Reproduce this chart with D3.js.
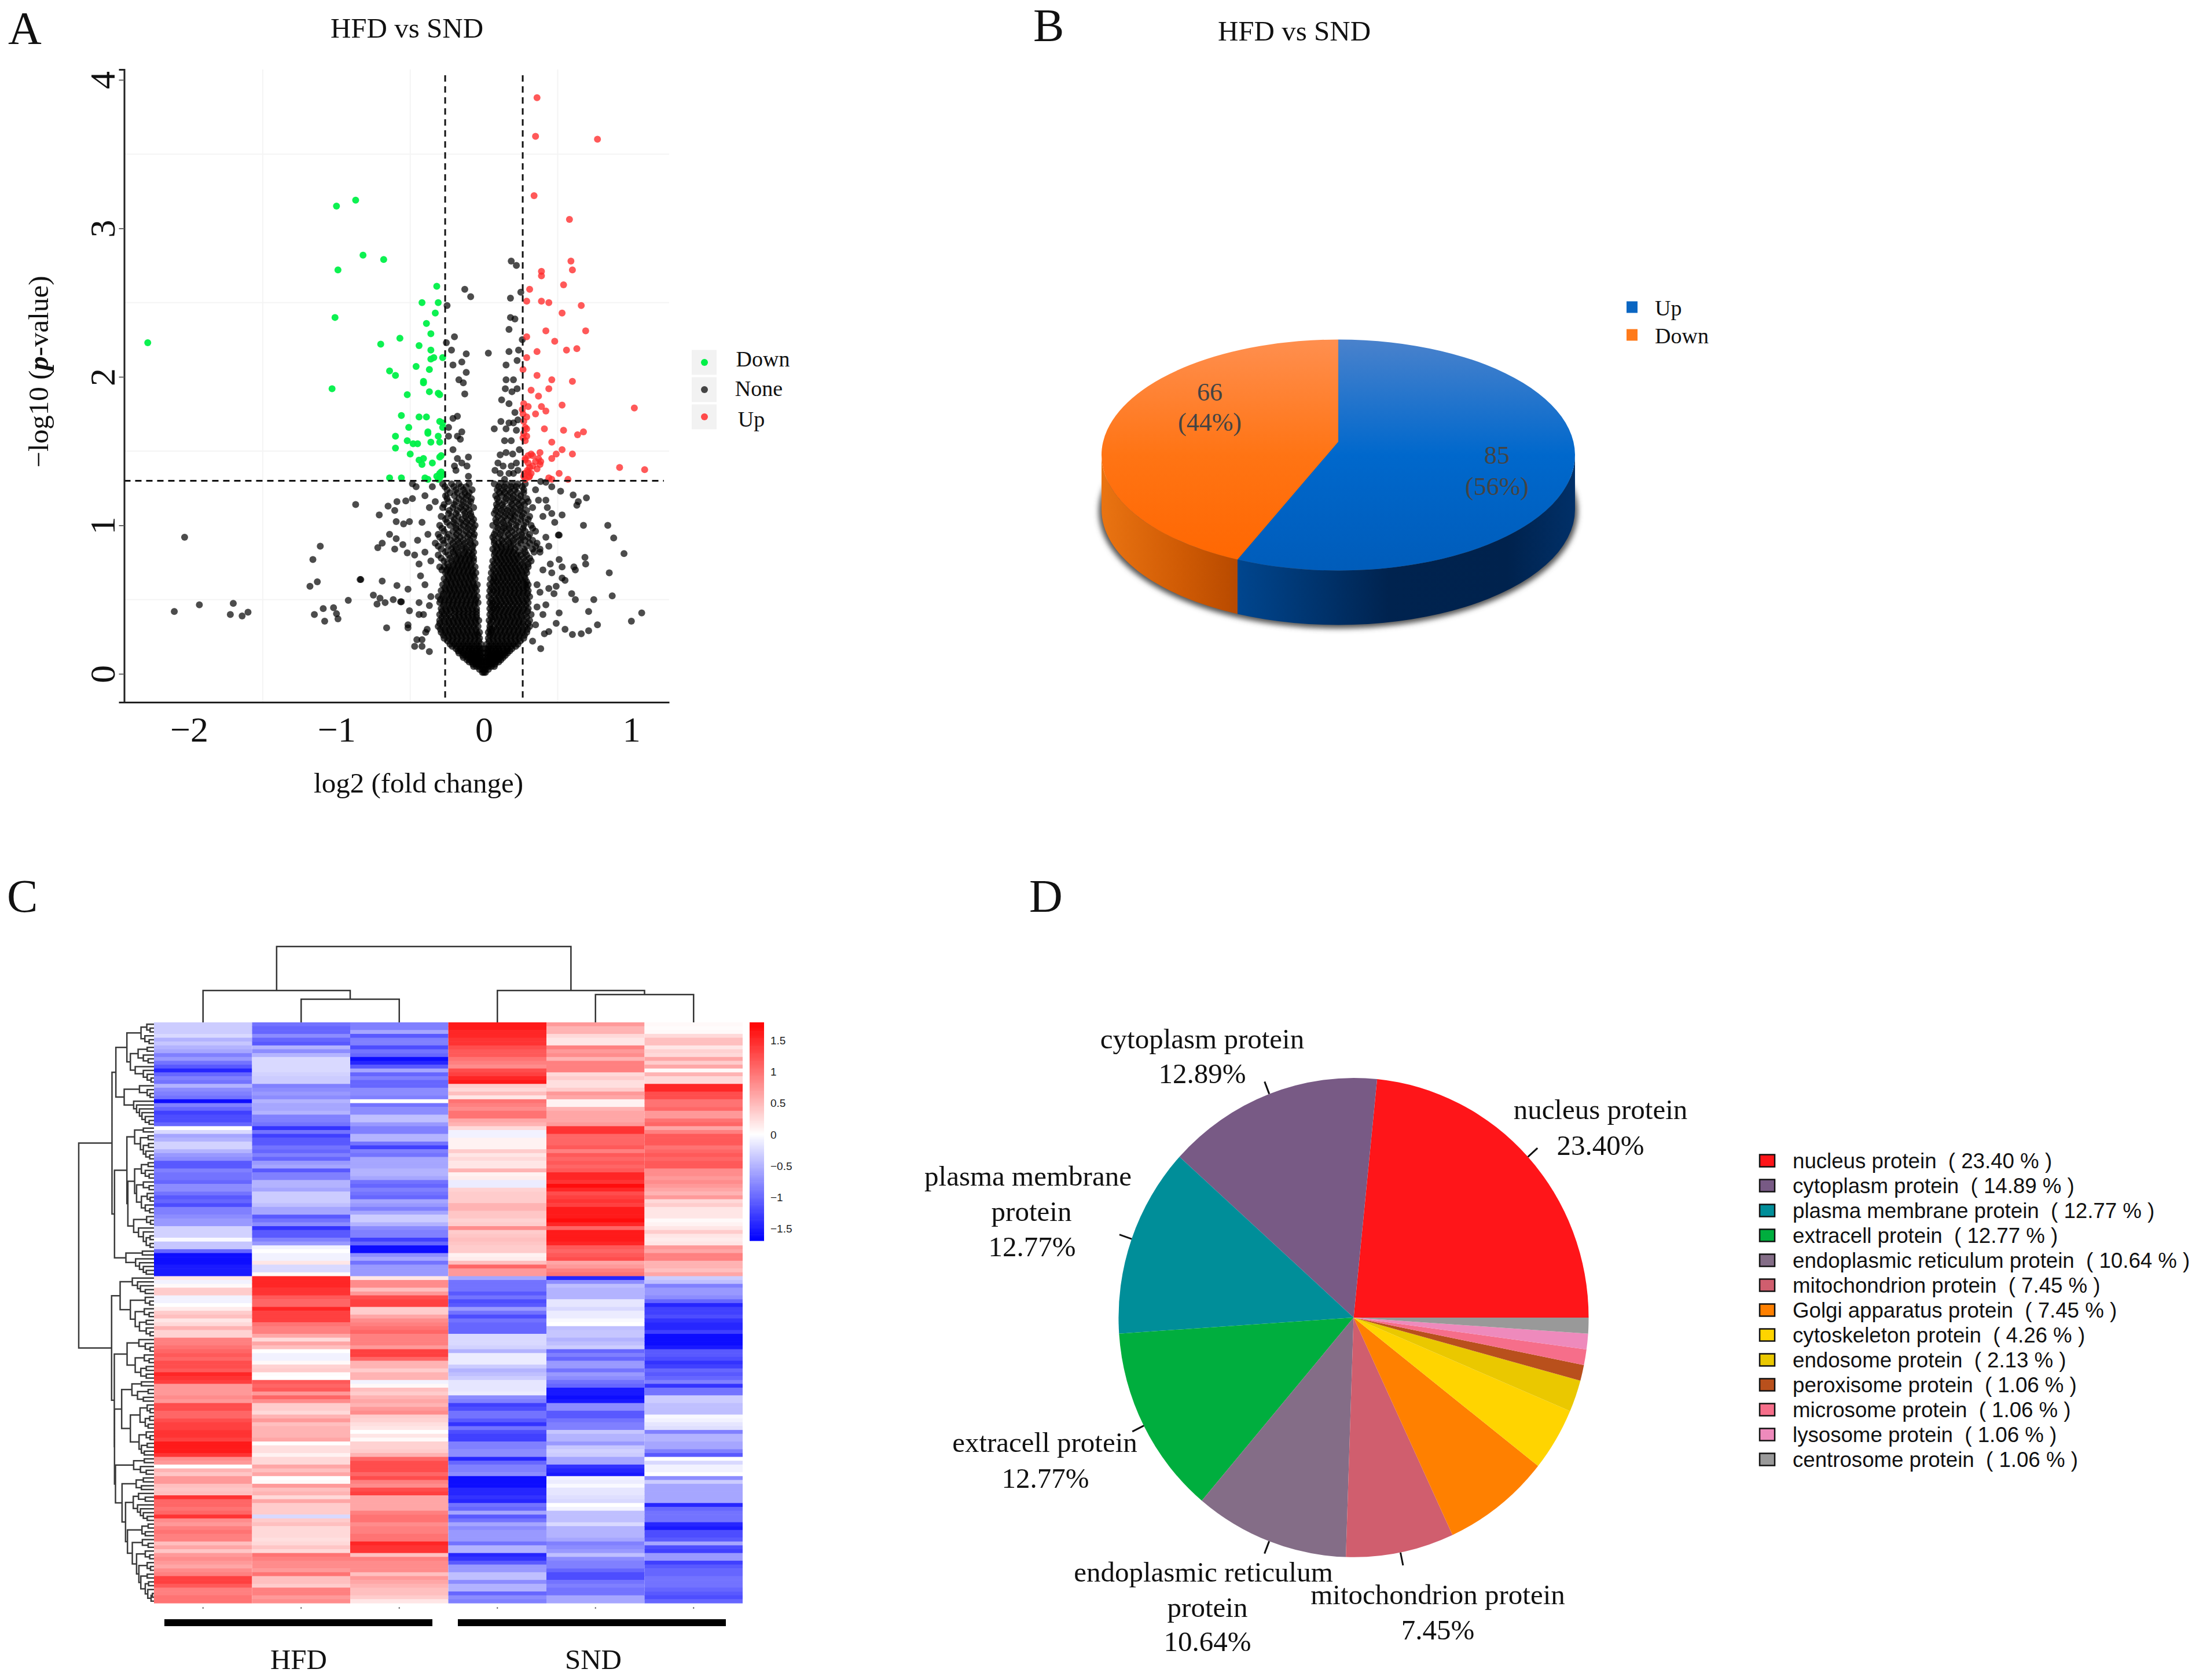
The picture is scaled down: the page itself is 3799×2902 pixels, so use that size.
<!DOCTYPE html>
<html><head><meta charset="utf-8">
<script src="https://cdn.jsdelivr.net/npm/d3@7/dist/d3.min.js"></script>
<style>html,body{margin:0;padding:0;background:#fff}svg{display:block}text{font-family:"Liberation Serif",serif;white-space:pre}</style>
</head><body><svg id="c" width="3799" height="2902" viewBox="0 0 3799 2902"></svg>
<script>
// ---------- Panel A data: [log2 fold change, -log10 p]
const downPts=[[-2.28,2.23],[-1.03,1.92],[-1.01,2.40],[-.99,2.72],[-1,3.15],[-.87,3.19],[-.82,2.82],[-.68,2.79],[-.70,2.22],[-.57,2.26],[-.64,2.04],[-.60,2.01],[-.52,1.88],[-.46,2.07],[-.44,2.21],[-.42,2.50],[-.39,2.36],[-.36,2.29],[-.36,2.18],[-.36,2.12],[-.34,2.13],[-.37,2.05],[-.41,1.97],[-.41,1.96],[-.37,1.90],[-.31,1.89],[-.30,1.88],[-.33,2.43],[-.31,2.50],[-.32,2.61],[-.28,2.13],[-.56,1.74],[-.44,1.73],[-.39,1.73],[-.51,1.66],[-.60,1.60],[-.52,1.57],[-.60,1.52],[-.48,1.55],[-.45,1.55],[-.50,1.48],[-.38,1.62],[-.38,1.63],[-.30,1.70],[-.28,1.69],[-.31,1.60],[-.36,1.56],[-.30,1.56],[-.28,1.66],[-.41,1.45],[-.44,1.44],[-.42,1.41],[-.35,1.42],[-.30,1.46],[-.29,1.47],[-.64,1.32],[-.56,1.32],[-.40,1.32],[-.38,1.31],[-.30,1.35],[-.29,1.36],[-.31,1.31],[-.28,1.34],[-.30,1.32],[-.32,1.33]];
const upPts=[[.36,3.88],[.35,3.62],[.77,3.60],[.34,3.22],[.58,3.06],[.59,2.78],[.60,2.72],[.39,2.71],[.39,2.68],[.54,2.62],[.31,2.59],[.29,2.51],[.39,2.51],[.44,2.50],[.53,2.43],[.66,2.48],[.69,2.31],[.42,2.31],[.29,2.27],[.48,2.24],[.56,2.18],[.63,2.19],[.36,2.17],[.29,2.13],[.265,2.05],[.36,2.01],[.46,1.98],[.60,1.97],[.44,1.92],[.32,1.91],[.37,1.87],[.53,1.81],[1.02,1.79],[.27,1.82],[.26,1.78],[.30,1.80],[.39,1.80],[.42,1.77],[.29,1.73],[.35,1.75],[.265,1.75],[.28,1.66],[.29,1.65],[.41,1.65],[.54,1.64],[.675,1.63],[.635,1.61],[.265,1.59],[.28,1.57],[.46,1.56],[.53,1.51],[.49,1.48],[.60,1.48],[.46,1.45],[.38,1.49],[.30,1.47],[.32,1.48],[.28,1.45],[.37,1.45],[.385,1.43],[.38,1.41],[.33,1.40],[.31,1.39],[.275,1.35],[.295,1.37],[.32,1.35],[.51,1.35],[.44,1.32],[.46,1.31],[.57,1.31],[.92,1.39],[1.09,1.375],[.27,1.33],[.305,1.325],[.28,1.31],[.30,1.42],[.27,1.62],[.29,1.60],[.33,1.47],[.36,1.38],[.35,1.43],[.31,1.33],[.27,1.70],[.28,1.44],[.30,1.36]];
const nonePts=[[.185,2.78],[.22,2.75],[-.13,2.59],[-.09,2.54],[-.25,2.48],[.25,2.57],[.18,2.53],[.18,2.40],[.21,2.39],[.17,2.32],[-.20,2.27],[-.255,2.23],[.26,2.25],[-.22,2.18],[-.12,2.155],[-.15,2.10],[-.21,2.08],[-.12,2.03],[-.17,1.98],[-.14,1.96],[-.13,1.885],[.03,2.16],[.17,2.17],[.235,2.18],[.225,2.11],[.15,2.08],[.15,1.98],[.20,1.98],[.145,1.92],[.19,1.90],[.225,1.92],[.12,1.845],[.17,1.82],[.21,1.76],[-.18,1.735],[-.21,1.72],[-.24,1.66],[.115,1.70],[.07,1.65],[.17,1.69],[.20,1.69],[.23,1.71],[.15,1.65],[.22,1.64],[.14,1.57],[.185,1.57],[-.15,1.63],[-.18,1.60],[-.24,1.60],[-.21,1.51],[-.16,1.58],[-.105,1.46],[-.18,1.45],[-.15,1.42],[-.115,1.40],[-.20,1.40],[-.19,1.37],[-.105,1.33],[.11,1.475],[.15,1.49],[.095,1.42],[.075,1.37],[.13,1.40],[.185,1.40],[.22,1.42],[.17,1.35],[.20,1.35],[.14,1.31],[.23,1.37],[.11,1.35],[.195,1.48],[.24,1.51],
[-2.03,.92],[-2.10,.42],[-1.93,.465],[-1.70,.475],[-1.72,.40],[-1.64,.39],[-1.60,.415],[-1.11,.86],[-1.16,.77],[-1.13,.62],[-1.18,.59],[-1.15,.40],[-1.09,.44],[-1.08,.355],[-1.02,.445],[-1,.405],[-.99,.37],[-.92,.495],[-.84,.635],[-.835,.635],[-.87,1.14],[-.69,.625],[-.75,.53],[-.705,.51],[-.725,.47],[-.67,.48],[-.615,.50],[-.565,.485],[-.56,.485],[-.59,.595],[-.515,.57],[-.505,.425],[-.515,.33],[-.66,.31],[-.71,1.07],[-.65,1.13],[-.605,1.10],[-.595,1.025],[-.64,.94],[-.545,1.01],[-.505,1.025],[-.72,.85],[-.69,.88],[-.605,.84],[-.55,.87],[-.595,.91],[-.52,.815],[-.59,1.16],[-.53,1.165],[-.485,1.28],[-.46,1.26],[-.485,1.18],
[.84,1],[.88,.915],[.95,.81],[.85,.68],[.87,.525],[1.07,.41],[1,.355],[.77,.33],[.71,.29],[.66,.27],[.60,.265],[.55,.30],[.71,.42],[.745,.50],[.69,.74],[.685,.785],[.675,1],[.695,1.185],[.64,1.16],[.63,1.135],[.605,1.205],[.53,1.07],[.52,1.23],[.46,1.26],[.42,1.29],[.385,1.295],[.505,.935],[.51,.935],[.42,1.17],[.51,.77],[.53,.72],[.61,.72],[.62,.70],[.46,.68],[.53,.645],[.55,.63],[.49,.59],[.595,.54],[.62,.50],[.44,.575],[.475,.54],[.42,.465],[.51,.41],[.49,.34],[.44,.285],[.385,.17],
[-.47,.185],[-.42,.185],[-.455,.23],[-.42,.23],[-.37,.15],[-.395,.28],[-.385,.30],[-.515,.31],[-.44,.48],[-.44,.40],[-.41,.40],[-.37,.46],[-.36,.52],[-.40,.60],[-.43,.66],[.40,.40],[.36,.45],[.38,.55],[.35,.33],[.41,.27],[.33,.22],[.36,.60],[.40,.70],[.45,.74],[.38,.82],[.44,.86],[.42,.92],[.48,1.02],[.40,1.06],[.43,1.12],[.37,1.17],[.35,1.24],[.46,1.08],[-.37,1.12],[-.42,1.02],[-.38,.94],[-.45,.90],[-.40,.82],[-.36,.76],[-.44,.74],[-.47,.80],[-.33,1.16],[-.35,1.26],[-.40,1.20]];
const massLevels=[.01,.03,.05,.08,.11,.14,.17,.20,.24,.28,.32,.36,.40,.44,.48,.52,.56,.60,.64,.68,.72,.76,.80,.84,.88,.92,.96,1.0,1.04,1.08,1.12,1.16,1.20,1.24,1.28];
const massX=[
[-.01,0,.01],[-.03,-.01,.01,.03],[-.07,-.05,-.03,-.01,.01,.03,.05,.07],[-.10,-.08,-.06,-.04,-.02,0,.02,.04,.06,.08,.10],
[-.14,-.11,-.09,-.07,-.05,-.03,-.01,.01,.03,.05,.07,.09,.11,.13],[-.17,-.14,-.11,-.09,-.07,-.05,-.03,-.01,.01,.03,.05,.07,.09,.11,.14,.16],
[-.19,-.16,-.13,-.10,-.08,-.05,-.03,-.01,.01,.03,.05,.08,.10,.13,.16,.19],[-.23,-.20,-.17,-.14,-.11,-.08,-.05,-.02,.02,.05,.08,.11,.14,.17,.20,.23],
[-.27,-.24,-.21,-.18,-.15,-.12,-.09,-.06,-.03,.03,.06,.09,.12,.15,.18,.21,.24,.27],[-.29,-.26,-.23,-.20,-.17,-.14,-.11,-.08,-.05,-.03,.03,.05,.08,.11,.14,.17,.20,.23,.26,.29],
[-.31,-.28,-.25,-.22,-.19,-.16,-.13,-.10,-.07,-.04,.04,.07,.10,.13,.16,.19,.22,.25,.28,.31],[-.30,-.27,-.24,-.21,-.18,-.15,-.12,-.09,-.06,-.035,.035,.06,.09,.12,.15,.18,.21,.24,.27,.31],
[-.30,-.27,-.24,-.2,-.17,-.14,-.11,-.08,-.05,.04,.07,.10,.13,.16,.19,.22,.25,.28,.32],[-.29,-.26,-.23,-.2,-.17,-.14,-.11,-.08,-.05,.04,.065,.09,.12,.15,.18,.21,.24,.27,.30],
[-.30,-.27,-.24,-.21,-.18,-.15,-.12,-.09,-.06,-.04,.04,.06,.09,.12,.15,.18,.21,.24,.27,.30],[-.31,-.28,-.25,-.22,-.19,-.16,-.13,-.1,-.07,-.045,.035,.07,.1,.13,.16,.19,.22,.25,.28,.31],
[-.29,-.26,-.23,-.2,-.17,-.14,-.11,-.08,-.05,.04,.065,.09,.12,.15,.18,.21,.24,.27,.30],[-.28,-.25,-.22,-.19,-.16,-.13,-.1,-.07,-.045,.04,.07,.1,.13,.16,.19,.22,.25,.28,.30],
[-.27,-.24,-.21,-.18,-.15,-.12,-.09,-.06,.045,.07,.1,.13,.16,.19,.22,.25,.28],[-.26,-.23,-.2,-.17,-.14,-.11,-.08,-.055,.05,.08,.11,.14,.17,.2,.23,.26,.29],
[-.30,-.27,-.24,-.21,-.18,-.15,-.12,-.09,-.06,.055,.09,.12,.15,.18,.21,.24,.27,.30],[-.27,-.22,-.19,-.16,-.13,-.1,-.07,.06,.09,.12,.15,.18,.21,.24,.28,.32],
[-.31,-.24,-.2,-.17,-.14,-.11,-.08,.07,.1,.13,.16,.19,.22,.25,.29],[-.29,-.22,-.19,-.15,-.12,-.08,.06,.09,.12,.15,.18,.21,.27,.33,.38],
[-.33,-.27,-.21,-.17,-.13,-.09,-.06,.07,.1,.13,.17,.2,.25,.31,.36],[-.30,-.25,-.2,-.16,-.11,-.07,.06,.1,.14,.18,.22,.26,.30],
[-.27,-.21,-.17,-.12,-.08,.08,.12,.15,.19,.24,.28,.35],[-.30,-.23,-.19,-.14,-.1,-.06,.06,.1,.14,.17,.22,.27,.32],
[-.26,-.2,-.15,-.11,-.07,.08,.12,.16,.2,.25,.30],[-.24,-.19,-.13,-.09,.07,.11,.15,.19,.23,.27],
[-.28,-.21,-.16,-.12,-.07,.09,.13,.17,.21,.25,.33],[-.24,-.19,-.14,-.09,.1,.14,.18,.22,.26,.3],
[-.26,-.2,-.15,-.11,.08,.12,.16,.2,.25],[-.25,-.19,-.14,-.08,.09,.13,.17,.21,.27],[-.28,-.22,-.17,-.1,.07,.11,.15,.19,.23,.28]];
// second, staggered reading of the same dense region
const coreLevels=[.065,.095,.125,.155,.185,.22,.26,.30,.34,.38,.42,.46,.50,.54,.58,.62,.66,.70,.74,.78,.82,.86,.90,.94,.98,1.02,1.06,1.10,1.14,1.18,1.22,1.26];
const coreX=[
[-.075,-.055,-.035,-.015,.015,.035,.055,.075],[-.115,-.095,-.075,-.055,-.035,-.015,.015,.035,.055,.075,.095,.115],[-.145,-.125,-.105,-.085,-.065,-.045,-.025,.025,.045,.065,.085,.105,.125,.145],
[-.175,-.155,-.13,-.105,-.08,-.055,-.03,.03,.055,.08,.105,.13,.155,.175],[-.215,-.185,-.155,-.125,-.095,-.065,-.035,.035,.065,.095,.125,.155,.185,.215],
[-.245,-.215,-.185,-.155,-.125,-.095,-.065,-.035,.035,.065,.095,.125,.155,.185,.215,.245],[-.275,-.245,-.215,-.185,-.155,-.125,-.095,-.065,-.04,.04,.065,.095,.125,.155,.185,.215,.245,.275],
[-.295,-.265,-.235,-.205,-.175,-.145,-.115,-.085,-.055,.04,.055,.085,.115,.145,.175,.205,.235,.265,.295],[-.30,-.265,-.235,-.205,-.175,-.145,-.115,-.085,-.055,.045,.085,.115,.145,.175,.205,.235,.265,.30],
[-.285,-.255,-.225,-.195,-.165,-.135,-.105,-.075,-.05,.05,.075,.105,.135,.165,.195,.225,.255,.29],[-.285,-.255,-.225,-.195,-.165,-.135,-.105,-.075,-.05,.05,.08,.11,.14,.17,.2,.23,.26,.295],
[-.275,-.245,-.215,-.185,-.155,-.125,-.095,-.065,.05,.08,.105,.135,.165,.195,.225,.255,.285],[-.295,-.265,-.235,-.205,-.175,-.145,-.115,-.085,-.055,.05,.08,.11,.14,.17,.2,.23,.26,.29],
[-.275,-.245,-.215,-.185,-.155,-.125,-.095,-.065,.05,.085,.115,.145,.175,.205,.235,.265,.295],[-.265,-.235,-.205,-.175,-.145,-.115,-.085,-.06,.05,.085,.115,.145,.175,.205,.235,.265,.29],
[-.255,-.225,-.195,-.165,-.135,-.105,-.075,.06,.085,.115,.145,.175,.205,.235,.265,.29],[-.245,-.215,-.185,-.155,-.125,-.095,-.07,.065,.095,.125,.155,.185,.215,.245,.275],
[-.285,-.25,-.225,-.195,-.165,-.135,-.105,-.075,.065,.1,.13,.16,.19,.22,.25,.285],[-.245,-.205,-.175,-.145,-.115,-.085,.07,.105,.135,.165,.195,.225,.26,.30],
[-.29,-.23,-.185,-.155,-.125,-.095,-.07,.08,.11,.14,.17,.2,.23,.27,.31],[-.26,-.21,-.175,-.13,-.1,-.07,.075,.11,.14,.17,.2,.235,.28,.34],
[-.31,-.24,-.195,-.155,-.115,-.075,.08,.115,.15,.185,.23,.29,.35],[-.28,-.225,-.18,-.14,-.095,.07,.12,.16,.2,.24,.28,.33],
[-.31,-.24,-.185,-.14,-.10,-.065,.07,.11,.165,.21,.255,.31],[-.285,-.19,-.155,-.11,-.07,.095,.135,.175,.215,.265,.33],
[-.25,-.205,-.16,-.12,-.08,.085,.13,.185,.23,.285],[-.29,-.22,-.175,-.125,-.085,.095,.14,.18,.21,.26,.31],
[-.235,-.18,-.14,-.10,.08,.12,.16,.2,.245,.29],[-.27,-.2,-.15,-.105,.085,.125,.19,.235,.275],
[-.25,-.17,-.125,-.085,.09,.15,.195,.235,.29],[-.23,-.18,-.13,-.10,.105,.14,.18,.225,.27],[-.265,-.205,-.155,-.12,.10,.14,.185,.22,.26]];
const xTicks=[-2,-1,0,1], yTicks=[0,1,2,3,4], xMinor=[-1.5,-.5,.5], yMinor=[.5,1.5,2.5,3.5];
const pCut=1.3, fcCut=.263;
const legendA=["Down","None","Up"];
// ---------- Panel B data
const deCats=["Up","Down"], deCounts=[85,66], dePct=["(56%)","(44%)"];
// ---------- Panel C data (z-scores, row by row)
const hfd1=[-.4,-.4,-.4,-.3,-.6,-.45,-.6,-.7,-1,-.8,-1.1,-1.3,-1.7,-1.2,-1,-1.1,-.6,-.9,-1,-1.1,-1.9,-1,-1.2,-1.5,-1.4,-1.4,-1.2,0,-.3,-.7,-.6,-.35,-.35,-.6,-.8,-.9,-1.3,-1.3,-1,-1.1,-1.1,-1.2,-.9,-.9,-1.1,-1.3,-1.2,-1.4,-1,-1,-.9,
-.8,-.8,-.35,-.35,-.35,-.05,-.45,-.45,-1.2,-1.9,-1.9,-1.9,-1.8,-1.8,-1.8,.2,-.1,.05,.4,.4,-.1,-.1,0,.15,.4,.5,.2,.3,.6,.35,.35,1,1,1.1,1.2,1.3,1.2,1.4,1.4,1.3,1.7,1.6,1.5,.8,.8,.8,.9,.8,1.4,1.4,
1.2,1.2,1.4,1.5,1.5,1.6,1.6,1.5,1.8,1.8,1.8,1.6,.9,.8,0,.6,.45,.8,.8,.5,.45,.5,1.6,1.2,1.2,1.1,1.2,1.6,.9,.8,1,1.1,1,1,.5,.7,.45,.8,.9,.8,.7,.9,1,1.5,1.5,1.3,1,1,1.1,1.1];
const hfd2=[-1.1,-1.2,-1.2,-.9,-1.2,-1.3,-.6,-.9,-.6,-.3,-.3,-.3,-.3,-.35,-.4,-.4,-1,-.9,-.8,-.9,-.6,-.7,-.7,-.6,-1,-1,-1.1,-1.6,-1.1,-1.5,-1.3,-1.3,-1.1,-1.2,-1,-1.2,-.8,-.7,-1.3,-1,-1,-.6,-.6,-.7,-.4,-.4,-.4,-.5,-.7,-.7,-1.3,
-1.1,-.9,-1.6,-1.3,-1.3,-1,-.8,-.1,0,-.1,-.1,.2,-.3,-.3,.05,1.7,1.7,1.7,1.6,1.6,1.3,1.2,1.2,1.7,1.5,1.5,1.5,1.1,1,1,.7,.3,.7,.5,0,-.1,-.1,.05,.35,.4,.02,0,1.3,1.2,1.3,.8,1.2,.9,.4,.4,
.3,.6,.8,.5,.6,.6,.6,.7,0,.25,.25,.1,.3,.3,.7,.5,.7,0,.05,.8,.5,.6,.3,.7,.4,.4,.4,-.3,.4,.5,.3,.3,.3,.25,.3,.45,.3,1.1,1,.9,.9,.8,1.1,.5,.5,.4,1,1,.8,.9];
const hfd3=[-1,-1,-.7,-1.3,-1,-1,-1.4,-1.1,-1.2,-1.9,-1.7,-1.3,-.7,-1.2,-1,-1.2,-1.2,-.9,-.9,-1,0,-1.1,-.9,-.9,-.5,-.5,-.8,-1,-1,-.6,-.6,-1.1,-1.5,-1,-1.1,-.7,-.7,-.7,-.6,-.6,-.7,-1.1,-1.2,-1,-1.1,-1.2,-.7,-.8,-1,-.7,-.4,
-.4,-.6,-.9,-1,-1,-1.5,-1.2,-1.9,-1.9,-.9,-.7,-1.1,-.8,-.8,-.8,.2,.9,.9,.5,.8,1.4,1.5,1.5,.4,.4,.7,.9,1,1.1,1.2,1,1,1,.8,1.5,1.5,1.2,.6,.6,.4,.6,.6,-.1,.05,.5,.4,.6,.7,.6,.8,
.9,.4,.35,.25,.2,0,.2,.05,.35,.35,.4,.6,1.2,1.4,1.4,1.4,1.2,1.4,1,.9,1.4,1.5,.7,.7,.7,.7,1,1.1,1.1,.9,1,1,1.1,1.1,1.7,1.6,1.6,.5,1,.9,.9,.9,.5,.8,.7,.6,.5,.5,.4,.2];
const snd1=[1.8,1.8,1.7,1.7,1.6,1.6,1.4,1.3,1.3,1.1,1,.9,1.4,1.5,1.7,1.8,.4,.3,.5,.2,1.1,1,.9,1.1,1.1,.7,.6,.3,-.1,-.1,.1,.1,.1,.4,.2,.3,.2,.2,.6,.1,.15,-.15,-.15,.35,.4,.4,.4,.6,.6,.45,.45,
.35,.4,.9,.4,.45,.5,.45,.4,.4,.1,.15,.5,1.2,.8,.8,-.7,-1.1,-1.1,-1.1,-1.3,-1.1,-1.4,-1.3,-.8,-1.1,-1.4,-1.1,-1.2,-1.2,-1.2,-.3,-.3,-.3,-.35,-.6,-.15,-.15,-.15,-.4,-.6,-.5,-.4,-.2,-.2,-.2,-.15,-.9,-1,-1.5,-1.4,
-1.1,-1.1,-1.3,-1.6,-1.1,-1.4,-1.5,-1.5,-1,-1,-.9,-.9,-1.7,-1.2,-1,-1,-.9,-1.9,-1.9,-1.9,-1.7,-1.7,-1.6,-1.7,-1.1,-1.2,-.7,-1.3,-1.1,-.7,-.9,-.8,-.8,-.8,-1.1,-.6,-.6,-1.7,-1.6,-1.3,-.8,-.8,-.5,-.5,-.9,-.6,-.6,-1.2,-.9,-1];
const snd2=[.8,.6,.6,.3,.2,.2,1,.8,.9,.6,1,1,1,.3,.4,.25,.25,.4,.8,.7,.1,.1,.6,.7,.7,.7,.8,1.6,1.6,1.2,1.2,1.2,1.3,1,1.3,1.2,1.3,1.2,1.3,1.7,1.7,1.6,1.9,1.7,1.4,1.5,1.6,1.5,1.8,1.8,1.8,
1.9,1.7,1.2,1.8,1.8,1.8,1.7,1.3,1.2,1.3,1.4,.7,.8,1,1.1,-1.7,-.9,-.5,-.6,-.6,-.6,-.2,-.2,-.3,-.15,-.15,-.05,0,-.5,-.45,-.45,-.6,-.5,-.4,-1.2,-1,-1.2,-.8,-.8,-1.1,-.8,-.9,-1.1,-1.2,-1.8,-1.8,-1.9,-1.8,-.9,-.9,
-1.3,-1.3,-1.1,-1,-1,-.45,-.6,-.6,-.8,-.45,-.35,-.4,-.7,-.7,-1.6,-1.7,-1.8,-.1,-.15,-.05,-.2,-.2,-.25,-.3,0,-.1,-.5,-.5,-.5,-.3,-.6,-.6,-.6,-.7,-1,-.9,-.8,-.5,-.9,-1,-1,-1.2,-1.4,-1.4,-1.1,-1,-1.1,-1.1,-.7,-.7];
const snd3=[.05,.02,.05,.3,.5,.5,.2,.35,.3,.7,.4,.7,.05,.6,.3,.3,1.7,1.7,1.4,1.4,1.1,1.1,1.2,.8,.8,1.1,1.2,.7,1,1.3,1.3,1.3,1.1,1.2,1.3,1.2,1.3,1.3,.9,.9,.8,.9,.8,.7,.6,.8,.3,.4,.2,.2,.2,
.05,.1,.2,.4,.2,.15,.2,.8,.7,1,1,.6,.6,.5,.7,-.4,-.5,-1,-.8,-.8,-.9,-1.2,-1.7,-1.5,-1.5,-1.4,-1.6,-1.7,-1.7,-1.5,-1.9,-1.9,-1.9,-1.8,-1.3,-1.3,-1.4,-1.6,-1.5,-1.2,-1.3,-1.2,-1,-1.6,-1.1,-1.1,-.4,-.4,-.5,-.5,
-.5,-.05,-.1,-.2,-.25,-1,-.6,-.6,-.7,-.7,-1,-1.3,0,-.3,-.1,-.1,0,-.9,-.4,-.7,-.7,-.7,-.7,-.7,-1.7,-1.2,-1.1,-1.1,-1.1,-1.7,-1.8,-1.4,-1.4,-1.3,-.7,-1.4,-1.5,-.8,-.8,-1.5,-1.3,-1.2,-1.2,-1.1,-1.1,-1.1,-1.2,-1.3,-1.4,-1.2];
const sampleGroups=["HFD","SND"];
const heatTicks=[1.5,1,.5,0,-.5,-1,-1.5];
// dendrograms: [height, child, child], 0 = a leaf
const colTree=[131,[55,0,[40,0,0]],[55,0,[48,0,0]]];
const rowTree=[389,
 [217,
  [197,
   [140,[67,[37,0,[20,0,0]],[47,0,[25,0,0]]],[122,[82,[35,0,0],[55,0,[30,0,0]]],[97,0,[55,0,[35,0,[15,0,0]]]]]],
   [154,[75,0,[35,0,[20,0,0]]],[105,0,[90,0,[75,0,[62,0,[45,0,[25,0,0]]]]]]]],
  [204,
   [140,[100,[55,0,0],[70,[30,0,0],[55,[28,0,0],[42,0,[22,0,0]]]]],
    [135,[100,[65,[30,0,0],[45,0,[25,0,0]]],[90,[55,0,[25,0,0]],[65,[35,0,[20,0,0]],[45,0,[22,0,0]]]]],
     [105,[38,0,[18,0,0]],[80,0,[55,0,[40,[20,0,0],[20,0,0]]]]]]],
   [145,[60,0,0],[95,0,[75,0,[55,0,[40,0,0]]]]]]],
 [219,
  [175,[112,0,[85,0,[70,0,[45,0,0]]]],[122,[45,0,[22,0,0]],[97,[50,0,[25,0,0]],[75,[40,0,0],[40,0,[20,0,0]]]]]],
  [205,
   [139,[78,0,[45,0,[20,0,0]]],[97,[50,0,[25,0,0]],[68,[40,0,0],[40,0,0]]]],
   [204,
    [167,[114,[65,0,0],[85,[30,0,0],[55,0,0]]],[122,[72,[35,0,[20,0,0]],[45,[22,0,0],[30,0,0]]],[77,[40,0,[20,0,0]],[65,[35,0,0],[50,0,0]]]]],
    [199,[105,[50,0,0],[70,0,[40,0,0]]],
     [165,[92,[55,0,0],[65,0,0]],
      [147,[107,[80,0,[45,0,0]],[85,0,[70,0,[55,0,[35,0,0]]]]],
       [137,[62,[30,0,0],[45,0,0]],
        [112,[60,0,[30,0,0]],[90,[45,0,[22,0,0]],[78,[35,0,[18,0,0]],[68,[35,0,0],[45,[28,0,0],[32,0,[15,[8,0,0],0]]]]]]]]]]]]]]];
// ---------- Panel D data
const locNames=["nucleus protein","cytoplasm protein","plasma membrane protein","extracell protein","endoplasmic reticulum protein","mitochondrion protein","Golgi apparatus protein","cytoskeleton protein","endosome protein","peroxisome protein","microsome protein","lysosome protein","centrosome protein"];
const locPct=[23.40,14.89,12.77,12.77,10.64,7.45,7.45,4.26,2.13,1.06,1.06,1.06,1.06];
const locColors=["#ff1519","#785a85","#008e99","#00ae3e","#846d87","#d05e6e","#ff8000","#ffd400","#eac800","#b9501c","#f66e8a","#ee8abc","#999999"];
const calloutLines=[["nucleus protein","23.40%"],["cytoplasm protein","12.89%"],["plasma membrane","protein","12.77%"],["extracell protein","12.77%"],["endoplasmic reticulum","protein","10.64%"],["mitochondrion protein","7.45%"]];

const svg=d3.select("#c");
svg.append("rect").attr("width",3799).attr("height",2902).attr("fill","#fff");
const defs=svg.append("defs");
const SERIF="Liberation Serif", SANS="Liberation Sans";
function txt(g,s,x,y,size,opt={}){
  return g.append("text").attr("x",x).attr("y",y).attr("font-size",size)
    .attr("text-anchor",opt.anchor||"start").attr("fill",opt.fill||"#111")
    .style("font-family",opt.font||SERIF).text(s);
}
[["A",14,76],["B",1785,71],["C",12,1575],["D",1778,1575]].forEach(d=>txt(svg,d[0],d[1],d[2],80));

// ================= A: volcano
const gA=svg.append("g");
const xV=d3.scaleLinear([-2.44,1.256],[214.5,1156]);
const yV=d3.scaleLinear([-.191,4.07],[1213,120]);
txt(gA,"HFD vs SND",703,65,49,{anchor:"middle"});
gA.append("g").selectAll("line").data(xMinor).join("line").attr("x1",d=>xV(d)).attr("x2",d=>xV(d)).attr("y1",120).attr("y2",1213).attr("stroke","#f4f4f4").attr("stroke-width",2);
gA.append("g").selectAll("line").data(yMinor).join("line").attr("y1",d=>yV(d)).attr("y2",d=>yV(d)).attr("x1",214.5).attr("x2",1156).attr("stroke","#f4f4f4").attr("stroke-width",2);
const massPts=massLevels.flatMap((y,i)=>massX[i].map(x=>[x,y]));
const corePts=coreLevels.flatMap((y,i)=>coreX[i].map(x=>[x,y]));
function dots(data,color,op){
  gA.append("g").selectAll("circle").data(data).join("circle")
    .attr("cx",d=>xV(d[0])).attr("cy",d=>yV(d[1])).attr("r",6).attr("fill",color).attr("fill-opacity",op);
}
dots(massPts.concat(corePts,nonePts),"#000",.7);
dots(downPts,"#00f048",.95);
dots(upPts,"#ff2a2a",.78);
[-fcCut,fcCut].forEach(v=>gA.append("line").attr("x1",xV(v)).attr("x2",xV(v)).attr("y1",130).attr("y2",1213).attr("stroke","#111").attr("stroke-width",3).attr("stroke-dasharray","11 8"));
gA.append("line").attr("x1",214.5).attr("x2",1147).attr("y1",yV(pCut)).attr("y2",yV(pCut)).attr("stroke","#111").attr("stroke-width",3).attr("stroke-dasharray","11 8");
const axB=gA.append("g").attr("transform","translate(0,1213)").call(d3.axisBottom(xV).tickValues(xTicks).tickSize(0).tickPadding(0).tickFormat(d3.format("d")));
axB.select(".domain").attr("stroke","#222").attr("stroke-width",3);
axB.selectAll("text").attr("y",68).attr("dy",0).attr("font-size",62).attr("fill","#111").style("font-family",SERIF);
const axL=gA.append("g").attr("transform","translate(214.5,0)").call(d3.axisLeft(yV).tickValues(yTicks).tickSize(9).tickFormat(d3.format("d")));
axL.select(".domain").attr("stroke","#222").attr("stroke-width",3);
axL.selectAll("line").attr("stroke","#666").attr("stroke-width",2);
axL.selectAll("text").attr("x",0).attr("dy",0).attr("font-size",62).attr("fill","#111").attr("text-anchor","middle").style("font-family",SERIF)
  .attr("transform","translate(-17,0) rotate(-90)");
txt(gA,"log2 (fold change)",723,1369,49,{anchor:"middle"});
const yl=gA.append("text").attr("transform","translate(83,642) rotate(-90)").attr("text-anchor","middle").attr("font-size",49).attr("fill","#111").style("font-family",SERIF);
yl.append("tspan").text("−log10 (");
yl.append("tspan").attr("font-weight","bold").attr("font-style","italic").text("p");
yl.append("tspan").text("-value)");
const legColors=["#00f048","#444","#ff4a4a"], legTextX=[1318,1311,1298], legY=d3.scalePoint(legendA,[626,720]);
legendA.forEach((k,i)=>{
  const y=legY(k);
  gA.append("rect").attr("x",1195).attr("y",y-21.5).attr("width",43).attr("height",43).attr("fill","#f2f2f2");
  gA.append("circle").attr("cx",1217).attr("cy",y).attr("r",6).attr("fill",legColors[i]);
  txt(gA,k,legTextX[i],y+[7,11,17][i],38,{anchor:"middle"});
});

// ================= B: 3D pie (apex sits above the ellipse centre, as in the perspective view)
const gB=svg.append("g");
txt(gB,"HFD vs SND",2236,70,49,{anchor:"middle"});
const P={cx:2312,cy:786,rx:409,ry:199.5,ax:2312,ay:763,depth:94};
function rim(a){ // ray from the apex, flat pie angle a, to the ellipse; returns the ellipse angle
  const dx=Math.sin(a),dy=-Math.cos(a),k=(P.ay-P.cy)/P.ry;
  const B=2*k*dy,C=k*k-1,t=(-B+Math.sqrt(B*B-4*C))/2;
  return Math.atan2(t*dx,-(k+t*dy))<0?Math.atan2(t*dx,-(k+t*dy))+2*Math.PI:Math.atan2(t*dx,-(k+t*dy));
}
const pt=a=>[P.cx+P.rx*Math.sin(a),P.cy-P.ry*Math.cos(a)];
const arcsB=d3.pie().sort(null)(deCounts).map(a=>({...a,a0:a.startAngle,a1:a.endAngle>=2*Math.PI-1e-6?2*Math.PI:rim(a.endAngle)}));
arcsB[1].a0=arcsB[0].a1;
function grad(id,vert,stops,x1,x2){
  const g=defs.append("linearGradient").attr("id",id).attr("gradientUnits","userSpaceOnUse");
  if(vert) g.attr("x1",0).attr("x2",0).attr("y1",x1).attr("y2",x2); else g.attr("y1",0).attr("y2",0).attr("x1",x1).attr("x2",x2);
  stops.forEach(s=>g.append("stop").attr("offset",s[0]).attr("stop-color",s[1]));
}
grad("upTop",true,[[0,"#4a82cc"],[.5,"#0068cc"],[1,"#005cba"]],586,985);
grad("dnTop",true,[[0,"#ff8f4f"],[.5,"#ff7414"],[1,"#ff6600"]],586,985);
grad("upSide",false,[[0,"#00468f"],[.45,"#00234f"],[.8,"#00224d"],[1,"#013068"]],2137,2720);
grad("dnSide",false,[[0,"#ea7412"],[.6,"#cf5a04"],[1,"#b84a00"]],1902,2137);
defs.append("filter").attr("id","blur").attr("x","-10%").attr("y","-20%").attr("width","120%").attr("height","140%").append("feGaussianBlur").attr("stdDeviation",5);
gB.append("ellipse").attr("cx",P.cx).attr("cy",P.cy+P.depth+3).attr("rx",P.rx+5).attr("ry",P.ry+3).attr("fill","#555").attr("filter","url(#blur)");
function sidePath(a0,a1){
  const p=pt(a0),q=pt(a1);
  return `M${p}A${P.rx},${P.ry} 0 0 1 ${q}L${q[0]},${q[1]+P.depth}A${P.rx},${P.ry} 0 0 0 ${p[0]},${p[1]+P.depth}Z`;
}
gB.append("path").attr("d",sidePath(Math.PI/2,arcsB[0].a1)).attr("fill","url(#upSide)");
gB.append("path").attr("d",sidePath(arcsB[0].a1,Math.PI*1.5)).attr("fill","url(#dnSide)");
arcsB.forEach((a,i)=>{
  const p=pt(a.a0),q=pt(a.a1),large=a.a1-a.a0>Math.PI?1:0;
  gB.append("path").attr("d",`M${P.ax},${P.ay}L${p}A${P.rx},${P.ry} 0 ${large} 1 ${q}Z`).attr("fill",i?"url(#dnTop)":"url(#upTop)");
});
const lblB=[[2586,801,855],[2090,692,744]];
deCounts.forEach((v,i)=>{
  txt(gB,String(v),lblB[i][0],lblB[i][1],44,{anchor:"middle",fill:"#444"});
  txt(gB,dePct[i],lblB[i][0],lblB[i][2],44,{anchor:"middle",fill:"#444"});
});
const legB=d3.scalePoint(deCats,[530.5,578.5]);
deCats.forEach((k,i)=>{
  gB.append("rect").attr("x",2810).attr("y",legB(k)-10).attr("width",19).attr("height",20).attr("fill",i?"#ff7a1a":"#0a66c2");
  txt(gB,k,2859,legB(k)+14,38);
});

// ================= C: heatmap
const gC=svg.append("g");
const heatCols=[hfd1,hfd2,hfd3,snd1,snd2,snd3];
const nRows=hfd1.length;
const xH=d3.scaleBand(d3.range(6),[266,1283]);
const yH=d3.scaleBand(d3.range(nRows),[1766,2769]);
const cBar=d3.scaleLinear([-1.69,0,1.79],["#0000ff","#ffffff","#ff0000"]).clamp(true);
const cH=d3.scaleLinear([-2,0,2],["#0000ff","#ffffff","#ff0000"]).clamp(true);
heatCols.forEach((col,j)=>{
  gC.append("g").selectAll("rect").data(col).join("rect")
   .attr("x",xH(j)).attr("width",xH.bandwidth()).attr("y",(d,i)=>yH(i)).attr("height",yH.bandwidth()+.6)
   .attr("fill",d=>cH(d));
});
gC.append("g").selectAll("line").data(d3.range(6)).join("line")
  .attr("x1",d=>xH(d)+xH.bandwidth()/2).attr("x2",d=>xH(d)+xH.bandwidth()/2).attr("y1",2776).attr("y2",2779).attr("stroke","#777").attr("stroke-width",2);
function dendro(tree,place,stroke){
  const root=d3.hierarchy(tree,n=>Array.isArray(n)?n.slice(1):null);
  root.leaves().forEach((l,i)=>{l.pos=i;});
  root.eachAfter(n=>{ if(n.children) n.pos=d3.mean(n.children,c=>c.pos); n.h=Array.isArray(n.data)?n.data[0]:0; });
  const p=d3.path();
  root.each(n=>{ if(!n.children) return;
    const a=n.children[0],b=n.children[1];
    const A=place(a.h,a.pos),N1=place(n.h,a.pos),N2=place(n.h,b.pos),B=place(b.h,b.pos);
    p.moveTo(A[0],A[1]);p.lineTo(N1[0],N1[1]);p.lineTo(N2[0],N2[1]);p.lineTo(B[0],B[1]);
  });
  gC.append("path").attr("d",p.toString()).attr("fill","none").attr("stroke",stroke).attr("stroke-width",2.5);
}
const dRow=d3.scaleLinear([0,389],[266,136]), dCol=d3.scaleLinear([0,131],[1766,1635]);
dendro(rowTree,(h,pos)=>[dRow(h),yH(0)+yH.bandwidth()*(pos+.5)],"#3a3a3a");
dendro(colTree,(h,pos)=>[xH(0)+xH.bandwidth()*(pos+.5),dCol(h)],"#333");
const yBar=d3.scaleLinear([-1.69,1.79],[2143,1766]);
const barSteps=d3.range(-1.69,1.79,.02);
gC.append("g").selectAll("rect").data(barSteps).join("rect").attr("x",1295).attr("width",25)
  .attr("y",d=>yBar(d+.02)).attr("height",d=>yBar(d)-yBar(d+.02)+.6).attr("fill",d=>cBar(d));
const axBar=gC.append("g").attr("transform","translate(1320,0)").call(d3.axisRight(yBar).tickValues(heatTicks).tickSize(0).tickFormat(d=>d3.format("")(d)));
axBar.select(".domain").remove();
axBar.selectAll("text").attr("x",11).attr("font-size",19).attr("fill","#222").style("font-family",SANS);
[[284,747],[791,1254]].forEach(b=>{
  gC.append("rect").attr("x",b[0]).attr("y",2797).attr("width",b[1]-b[0]).attr("height",12).attr("fill","#000");
});
sampleGroups.forEach((g,i)=>txt(gC,g,[516,1025][i],2883,49,{anchor:"middle"}));

// ================= D: pie
const gD=svg.append("g");
const D={cx:2338.5,cy:2276,rx:406,ry:414};
const arcsD=d3.pie().sort(null).startAngle(Math.PI/2).endAngle(Math.PI/2-2*Math.PI)(locPct);
const arcUnit=d3.arc().innerRadius(0).outerRadius(1);
gD.append("g").attr("transform",`translate(${D.cx},${D.cy}) scale(${D.rx},${D.ry})`)
  .selectAll("path").data(arcsD).join("path").attr("d",arcUnit).attr("fill",(d,i)=>locColors[i]);
const calloutPos=[[2765,[1933,1995]],[2077,[1811,1871]],[1780,[2048,2109,2170]],[1805,[2508,2570]],[2083,[2732,2793,2852]],[2484,[2771,2832]]];
const calloutDx=[[0,0],[0,0],[-4,2,3],[0,1],[-4,3,3],[0,0]];
calloutLines.forEach((lines,i)=>{
  const a=arcsD[i],mid=(a.startAngle+a.endAngle)/2;
  gD.append("line").attr("x1",D.cx+D.rx*Math.sin(mid)).attr("y1",D.cy-D.ry*Math.cos(mid))
    .attr("x2",D.cx+D.rx*1.055*Math.sin(mid)).attr("y2",D.cy-D.ry*1.055*Math.cos(mid)).attr("stroke","#111").attr("stroke-width",3);
  lines.forEach((s,k)=>txt(gD,s,calloutPos[i][0]+calloutDx[i][k],calloutPos[i][1][k],49,{anchor:"middle"}));
});
const legD=d3.scaleBand(d3.range(locNames.length),[1983.5,1983.5+43*13]);
locNames.forEach((n,i)=>{
  const y=legD(i)+21.5;
  gD.append("rect").attr("x",3040).attr("y",y-10.5).attr("width",26).attr("height",21).attr("fill",locColors[i]).attr("stroke","#111").attr("stroke-width",2.5);
  txt(gD,`${n}  ( ${locPct[i].toFixed(2)} % )`,3097,y+13,36.65,{font:SANS,fill:"#111"});
});
</script></body></html>
